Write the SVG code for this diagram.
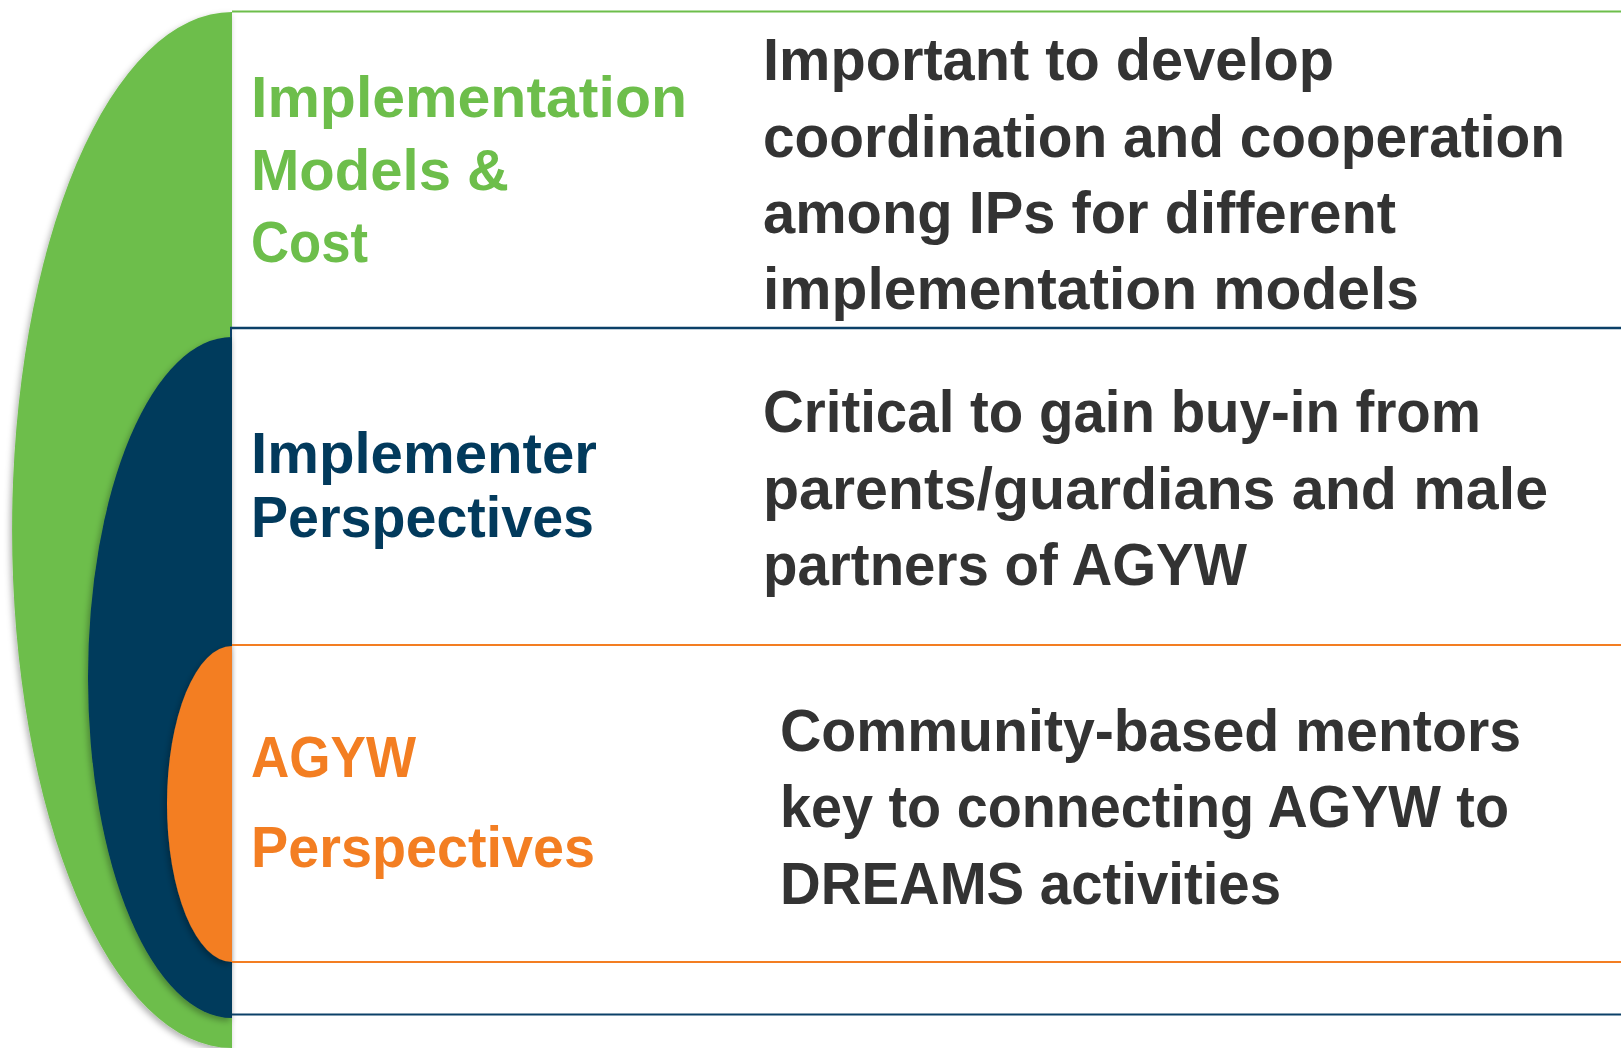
<svg xmlns="http://www.w3.org/2000/svg" width="1621" height="1048" viewBox="0 0 1621 1048">
<defs>
<filter id="sh" x="-20%" y="-10%" width="140%" height="130%">
<feDropShadow dx="-2" dy="3" stdDeviation="3" flood-color="#000" flood-opacity="0.3"/>
</filter>
<style>
.lbl{font-family:"Liberation Sans",Arial,sans-serif;font-weight:bold;font-size:58px}
.desc{font-family:"Liberation Sans Narrow","Liberation Sans",Arial,sans-serif;font-weight:bold;font-size:60px;fill:#333333}
.g{fill:#6DBE4B}
.n{fill:#023A5C}
.o{fill:#F37E22}
</style>
</defs>
<rect width="1621" height="1048" fill="#ffffff"/>
<g id="node-implementation">
<path class="g" filter="url(#sh)" d="M232,12 A220,518 0 0 0 232,1048 Z"/>
<line x1="232" y1="11.5" x2="1621" y2="11.5" stroke="#6DBE4B" stroke-width="2"/>
<text class="lbl g" x="251" y="117" textLength="436" lengthAdjust="spacingAndGlyphs">Implementation</text>
<text class="lbl g" x="251" y="190" textLength="258" lengthAdjust="spacingAndGlyphs">Models &amp;</text>
<text class="lbl g" x="251" y="262" textLength="117" lengthAdjust="spacingAndGlyphs">Cost</text>
<text class="desc" x="763" y="80" textLength="571" lengthAdjust="spacingAndGlyphs">Important to develop</text>
<text class="desc" x="763" y="157" textLength="802" lengthAdjust="spacingAndGlyphs">coordination and cooperation</text>
<text class="desc" x="763" y="233" textLength="633" lengthAdjust="spacingAndGlyphs">among IPs for different</text>
<text class="desc" x="763" y="309" textLength="656" lengthAdjust="spacingAndGlyphs">implementation models</text>
</g>
<g id="node-implementer">
<path class="n" filter="url(#sh)" d="M232,337 A144,340.5 0 0 0 232,1018 Z"/>
<line x1="230" y1="328" x2="1621" y2="328" stroke="#0B4068" stroke-width="2.5"/>
<line x1="231" y1="328" x2="231" y2="337" stroke="#0B4068" stroke-width="2"/>
<line x1="232" y1="1014.5" x2="1621" y2="1014.5" stroke="#0B4068" stroke-width="2"/>
<text class="lbl n" x="251" y="473" textLength="346" lengthAdjust="spacingAndGlyphs">Implementer</text>
<text class="lbl n" x="251" y="537" textLength="343" lengthAdjust="spacingAndGlyphs">Perspectives</text>
<text class="desc" x="763" y="432" textLength="718" lengthAdjust="spacingAndGlyphs">Critical to gain buy-in from</text>
<text class="desc" x="763" y="509" textLength="785" lengthAdjust="spacingAndGlyphs">parents/guardians and male</text>
<text class="desc" x="763" y="585" textLength="484" lengthAdjust="spacingAndGlyphs">partners of AGYW</text>
</g>
<g id="node-agyw">
<path class="o" filter="url(#sh)" d="M232,646 A65,158 0 0 0 232,962 Z"/>
<line x1="232" y1="645" x2="1621" y2="645" stroke="#F37E22" stroke-width="2"/>
<line x1="232" y1="962" x2="1621" y2="962" stroke="#F37E22" stroke-width="2"/>
<text class="lbl o" x="251" y="777" textLength="165" lengthAdjust="spacingAndGlyphs">AGYW</text>
<text class="lbl o" x="251" y="867" textLength="344" lengthAdjust="spacingAndGlyphs">Perspectives</text>
<text class="desc" x="780" y="751" textLength="741" lengthAdjust="spacingAndGlyphs">Community-based mentors</text>
<text class="desc" x="780" y="827" textLength="729" lengthAdjust="spacingAndGlyphs">key to connecting AGYW to</text>
<text class="desc" x="780" y="904" textLength="501" lengthAdjust="spacingAndGlyphs">DREAMS activities</text>
</g>
<g id="connectors"></g>
</svg>
